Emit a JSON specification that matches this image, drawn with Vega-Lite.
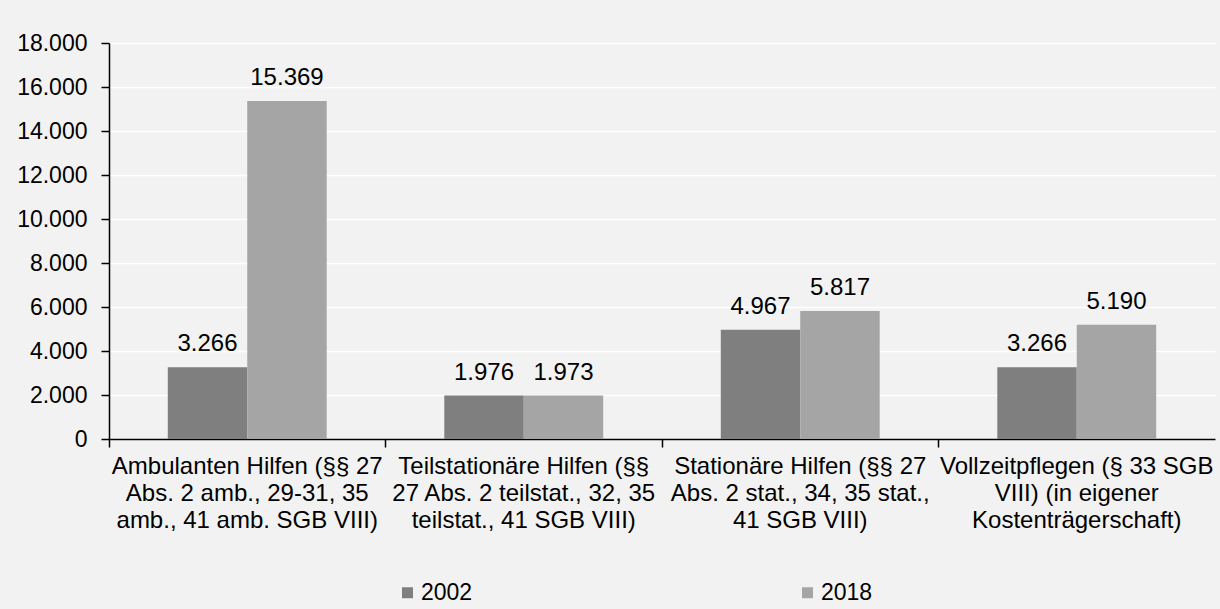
{
  "$schema": "https://vega.github.io/schema/vega-lite/v6.json",
  "autosize": {"type": "none"},
  "width": 1106,
  "height": 396,
  "padding": {"left": 109, "top": 43, "right": 5, "bottom": 170},
  "background": "#f2f2f2",
  "config": {
    "view": {"stroke": null},
    "font": "Liberation Sans",
    "text": {"font": "Liberation Sans"}
  },
  "data": {
    "values": [
      {"kategorie": "Ambulanten Hilfen (§§ 27|Abs. 2 amb., 29-31, 35|amb., 41 amb. SGB VIII)", "jahr": "2002", "wert": 3266, "label": "3.266"},
      {"kategorie": "Ambulanten Hilfen (§§ 27|Abs. 2 amb., 29-31, 35|amb., 41 amb. SGB VIII)", "jahr": "2018", "wert": 15369, "label": "15.369"},
      {"kategorie": "Teilstationäre Hilfen (§§|27 Abs. 2 teilstat., 32, 35|teilstat., 41 SGB VIII)", "jahr": "2002", "wert": 1976, "label": "1.976"},
      {"kategorie": "Teilstationäre Hilfen (§§|27 Abs. 2 teilstat., 32, 35|teilstat., 41 SGB VIII)", "jahr": "2018", "wert": 1973, "label": "1.973"},
      {"kategorie": "Stationäre Hilfen (§§ 27|Abs. 2 stat., 34, 35 stat.,|41 SGB VIII)", "jahr": "2002", "wert": 4967, "label": "4.967"},
      {"kategorie": "Stationäre Hilfen (§§ 27|Abs. 2 stat., 34, 35 stat.,|41 SGB VIII)", "jahr": "2018", "wert": 5817, "label": "5.817"},
      {"kategorie": "Vollzeitpflegen (§ 33 SGB|VIII) (in eigener|Kostenträgerschaft)", "jahr": "2002", "wert": 3266, "label": "3.266"},
      {"kategorie": "Vollzeitpflegen (§ 33 SGB|VIII) (in eigener|Kostenträgerschaft)", "jahr": "2018", "wert": 5190, "label": "5.190"}
    ]
  },
  "encoding": {
    "x": {
      "field": "kategorie",
      "type": "nominal",
      "sort": null,
      "title": null,
      "scale": {"paddingInner": 0, "paddingOuter": 0},
      "axis": {
        "labelExpr": "split(datum.label, '|')",
        "labelAngle": 0,
        "labelAlign": "center",
        "labelBaseline": "top",
        "labelFontSize": 24,
        "labelLineHeight": 27,
        "labelColor": "#000000",
        "labelPadding": 7,
        "labelLimit": 0,
        "bandPosition": 0,
        "tickColor": "#000000",
        "tickSize": 8,
        "tickWidth": 1.5,
        "domainColor": "#000000",
        "domainWidth": 1.5,
        "grid": false
      }
    },
    "xOffset": {
      "field": "jahr",
      "type": "nominal",
      "scale": {"paddingInner": 0, "paddingOuter": 0.74}
    },
    "y": {
      "field": "wert",
      "type": "quantitative",
      "title": null,
      "scale": {"domain": [0, 18000], "nice": false},
      "axis": {
        "values": [0, 2000, 4000, 6000, 8000, 10000, 12000, 14000, 16000, 18000],
        "labelExpr": "replace(format(datum.value, ',d'), ',', '.')",
        "labelFontSize": 23,
        "labelColor": "#000000",
        "labelPadding": 14,
        "tickColor": "#000000",
        "tickSize": 8,
        "tickWidth": 1.5,
        "domainColor": "#000000",
        "domainWidth": 1.5,
        "gridColor": "#ffffff",
        "gridWidth": 1.5
      }
    }
  },
  "layer": [
    {
      "mark": {"type": "bar"},
      "encoding": {
        "color": {
          "field": "jahr",
          "type": "nominal",
          "scale": {"domain": ["2002", "2018"], "range": ["#7f7f7f", "#a5a5a5"]},
          "legend": {
            "title": null,
            "orient": "none",
            "direction": "horizontal",
            "legendX": 287,
            "legendY": 538,
            "padding": 0,
            "symbolType": "square",
            "symbolSize": 121,
            "symbolStrokeWidth": 0,
            "labelFontSize": 23,
            "labelColor": "#000000",
            "labelOffset": 2,
            "columnPadding": 323
          }
        }
      }
    },
    {
      "mark": {"type": "text", "baseline": "alphabetic", "dy": -16, "fontSize": 24, "color": "#000000"},
      "encoding": {
        "text": {"field": "label"}
      }
    }
  ]
}
